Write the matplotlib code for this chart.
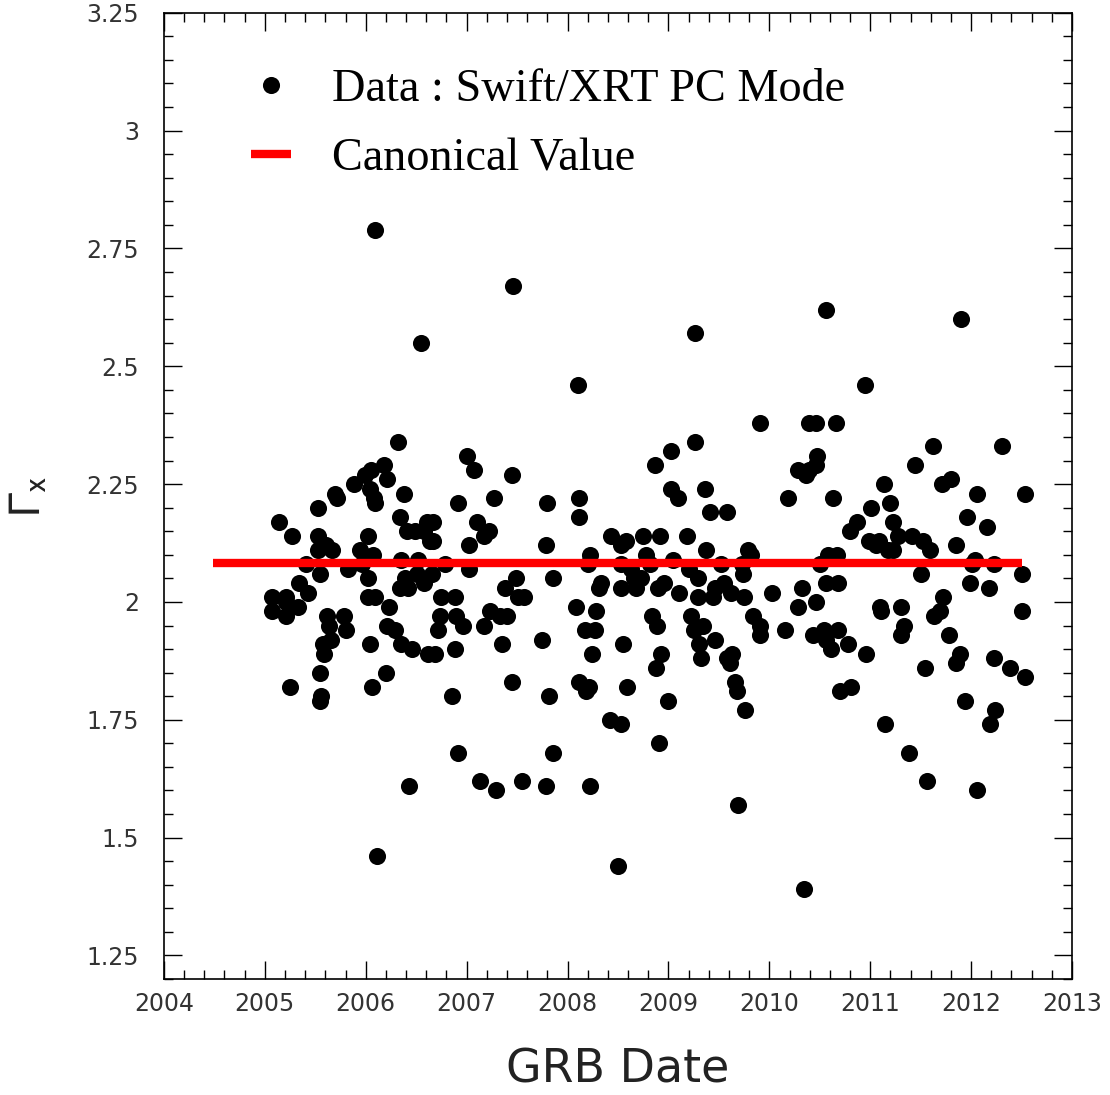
import matplotlib
matplotlib.use('Agg')
from matplotlib import pyplot as plt
from matplotlib.ticker import MultipleLocator, FuncFormatter

# burst dates (decimal year) and photon index of each GRB
grb_year = [
    2005.07, 2005.07, 2005.14, 2005.21, 2005.21, 2005.21, 2005.25, 2005.27,
    2005.33, 2005.34, 2005.41, 2005.43, 2005.53, 2005.53, 2005.53, 2005.55,
    2005.55, 2005.55, 2005.56, 2005.58, 2005.59, 2005.61, 2005.62, 2005.64,
    2005.66, 2005.67, 2005.70, 2005.72, 2005.78, 2005.80, 2005.82, 2005.88,
    2005.94, 2005.96, 2005.99,
    2006.02, 2006.02, 2006.02, 2006.04, 2006.04, 2006.05, 2006.06, 2006.07,
    2006.08, 2006.09, 2006.09, 2006.09, 2006.11, 2006.18, 2006.20, 2006.21,
    2006.21, 2006.23, 2006.29, 2006.32, 2006.34, 2006.34, 2006.35, 2006.35,
    2006.38, 2006.39, 2006.41, 2006.42, 2006.43, 2006.46, 2006.49, 2006.51,
    2006.52, 2006.55, 2006.58, 2006.58, 2006.61, 2006.62, 2006.64, 2006.66,
    2006.67, 2006.67, 2006.69, 2006.72, 2006.74, 2006.75, 2006.79, 2006.85,
    2006.88, 2006.88, 2006.89, 2006.91, 2006.91, 2006.96,
    2007.00, 2007.02, 2007.02, 2007.07, 2007.10, 2007.13, 2007.17, 2007.17,
    2007.22, 2007.23, 2007.27, 2007.29, 2007.33, 2007.35, 2007.38, 2007.40,
    2007.45, 2007.45, 2007.46, 2007.49, 2007.51, 2007.55, 2007.57, 2007.75,
    2007.79, 2007.79, 2007.80, 2007.82, 2007.86, 2007.86,
    2008.08, 2008.10, 2008.11, 2008.11, 2008.11, 2008.17, 2008.18, 2008.20,
    2008.21, 2008.22, 2008.22, 2008.24, 2008.27, 2008.28, 2008.31, 2008.33,
    2008.42, 2008.43, 2008.50, 2008.53, 2008.53, 2008.53, 2008.53, 2008.55,
    2008.58, 2008.59, 2008.63, 2008.66, 2008.68, 2008.73, 2008.75, 2008.78,
    2008.82, 2008.84, 2008.87, 2008.88, 2008.89, 2008.90, 2008.91, 2008.92,
    2008.93, 2008.96,
    2009.00, 2009.03, 2009.03, 2009.05, 2009.09, 2009.10, 2009.18, 2009.20,
    2009.22, 2009.25, 2009.26, 2009.26, 2009.29, 2009.29, 2009.30, 2009.32,
    2009.34, 2009.36, 2009.37, 2009.41, 2009.44, 2009.46, 2009.46, 2009.52,
    2009.55, 2009.58, 2009.58, 2009.61, 2009.62, 2009.63, 2009.66, 2009.68,
    2009.69, 2009.73, 2009.74, 2009.75, 2009.76, 2009.79, 2009.82, 2009.84,
    2009.91, 2009.91, 2009.91,
    2010.03, 2010.16, 2010.18, 2010.28, 2010.28, 2010.32, 2010.34, 2010.36,
    2010.39, 2010.39, 2010.43, 2010.46, 2010.46, 2010.46, 2010.47, 2010.50,
    2010.54, 2010.56, 2010.56, 2010.56, 2010.58, 2010.61, 2010.63, 2010.66,
    2010.67, 2010.68, 2010.68, 2010.70, 2010.78, 2010.80, 2010.81, 2010.87,
    2010.95, 2010.96, 2010.99,
    2011.01, 2011.06, 2011.09, 2011.10, 2011.11, 2011.14, 2011.15, 2011.18,
    2011.20, 2011.23, 2011.23, 2011.28, 2011.30, 2011.30, 2011.33, 2011.38,
    2011.41, 2011.44, 2011.50, 2011.52, 2011.54, 2011.56, 2011.59, 2011.62,
    2011.63, 2011.69, 2011.71, 2011.72, 2011.78, 2011.80, 2011.85, 2011.85,
    2011.89, 2011.90, 2011.94, 2011.96, 2011.99,
    2012.01, 2012.04, 2012.06, 2012.06, 2012.16, 2012.18, 2012.19, 2012.23,
    2012.23, 2012.24, 2012.31, 2012.39, 2012.50, 2012.50, 2012.53, 2012.53,
]
gamma_x = [
    2.01, 1.98, 2.17, 2.01, 2.00, 1.97, 1.82, 2.14,
    1.99, 2.04, 2.08, 2.02, 2.20, 2.14, 2.11, 2.06,
    1.79, 1.85, 1.80, 1.91, 1.89, 2.12, 1.97, 1.95,
    1.92, 2.11, 2.23, 2.22, 1.97, 1.94, 2.07, 2.25,
    2.11, 2.08, 2.27,
    2.14, 2.01, 2.05, 2.24, 1.91, 2.28, 1.82, 2.10,
    2.22, 2.79, 2.21, 2.01, 1.46, 2.29, 1.85, 2.26,
    1.95, 1.99, 1.94, 2.34, 2.18, 2.03, 2.09, 1.91,
    2.23, 2.05, 2.15, 2.03, 1.61, 1.90, 2.15, 2.06,
    2.09, 2.55, 2.04, 2.15, 2.17, 1.89, 2.13, 2.06,
    2.17, 2.13, 1.89, 1.94, 1.97, 2.01, 2.08, 1.80,
    2.01, 1.90, 1.97, 2.21, 1.68, 1.95,
    2.31, 2.12, 2.07, 2.28, 2.17, 1.62, 1.95, 2.14,
    2.15, 1.98, 2.22, 1.60, 1.97, 1.91, 2.03, 1.97,
    2.27, 1.83, 2.67, 2.05, 2.01, 1.62, 2.01, 1.92,
    1.61, 2.12, 2.21, 1.80, 2.05, 1.68,
    1.99, 2.46, 2.18, 2.22, 1.83, 1.94, 1.81, 2.08,
    1.82, 2.10, 1.61, 1.89, 1.94, 1.98, 2.03, 2.04,
    1.75, 2.14, 1.44, 1.74, 2.03, 2.08, 2.12, 1.91,
    2.13, 1.82, 2.07, 2.05, 2.03, 2.05, 2.14, 2.10,
    2.08, 1.97, 2.29, 1.86, 1.95, 2.03, 1.70, 2.14,
    1.89, 2.04,
    1.79, 2.24, 2.32, 2.09, 2.22, 2.02, 2.14, 2.07,
    1.97, 1.94, 2.34, 2.57, 2.01, 2.05, 1.91, 1.88,
    1.95, 2.24, 2.11, 2.19, 2.01, 2.03, 1.92, 2.08,
    2.04, 2.19, 1.88, 1.87, 2.02, 1.89, 1.83, 1.81,
    1.57, 2.08, 2.06, 2.01, 1.77, 2.11, 2.10, 1.97,
    2.38, 1.95, 1.93,
    2.02, 1.94, 2.22, 2.28, 1.99, 2.03, 1.39, 2.27,
    2.38, 2.28, 1.93, 2.00, 2.38, 2.29, 2.31, 2.08,
    1.94, 2.62, 2.04, 1.92, 2.10, 1.90, 2.22, 2.38,
    2.10, 2.04, 1.94, 1.81, 1.91, 2.15, 1.82, 2.17,
    2.46, 1.89, 2.13,
    2.20, 2.12, 2.13, 1.99, 1.98, 2.25, 1.74, 2.11,
    2.21, 2.11, 2.17, 2.14, 1.99, 1.93, 1.95, 1.68,
    2.14, 2.29, 2.06, 2.13, 1.86, 1.62, 2.11, 2.33,
    1.97, 1.98, 2.25, 2.01, 1.93, 2.26, 2.12, 1.87,
    1.89, 2.60, 1.79, 2.18, 2.04,
    2.08, 2.09, 2.23, 1.60, 2.16, 2.03, 1.74, 2.08,
    1.88, 1.77, 2.33, 1.86, 2.06, 1.98, 2.23, 1.84,
]

# canonical photon index, drawn over the whole sample
canon_year = [2004.49, 2012.50]
canon_gamma = [2.083, 2.083]

plt.rcParams['mathtext.fontset'] = 'stixsans'

fig = plt.figure(figsize=(11.10, 10.95), dpi=100)
ax = fig.add_axes([0.1477, 0.1059, 0.8181, 0.8825])

ax.plot(grb_year, gamma_x, 'o', color='black', ms=12.3, mew=0,
        label='Data : Swift/XRT PC Mode')
ax.plot(canon_year, canon_gamma, '-', color='red', lw=6,
        solid_capstyle='butt', label='Canonical Value')

ax.set_xlim(2004, 2013)
ax.set_ylim(1.2, 3.25)
ax.xaxis.set_major_locator(MultipleLocator(1))
ax.xaxis.set_minor_locator(MultipleLocator(0.2))
ax.yaxis.set_major_locator(MultipleLocator(0.25))
ax.yaxis.set_minor_locator(MultipleLocator(0.05))
ax.xaxis.set_major_formatter(FuncFormatter(lambda v, p: '%d' % round(v)))
ax.yaxis.set_major_formatter(FuncFormatter(lambda v, p: '%g' % round(v, 2)))

ax.tick_params(which='both', direction='in', top=True, right=True,
               width=1.0, color='black')
ax.tick_params(which='major', length=13)
ax.tick_params(which='minor', length=6.5)
ax.tick_params(axis='x', which='major', pad=9)
ax.tick_params(axis='y', which='major', pad=18)
for lab in ax.get_xticklabels() + ax.get_yticklabels():
    lab.set_fontfamily('DejaVu Sans')
    lab.set_fontsize(17)
    lab.set_color('#333333')
for sp in ax.spines.values():
    sp.set_linewidth(1.2)

ax.set_xlabel('GRB Date', fontsize=33, color='#222222', labelpad=23)
ax.set_ylabel(r'$\Gamma_{\rm x}$', fontsize=33, color='#222222', labelpad=26)

ax.legend(loc='upper left', bbox_to_anchor=(0.096, 0.942), frameon=False,
          prop={'family': 'Liberation Serif', 'size': 33.3},
          handlelength=0.87, handletextpad=0.87, labelspacing=0.57,
          borderpad=0, borderaxespad=0, numpoints=1)

fig.savefig('out.png')
plt.close(fig)
